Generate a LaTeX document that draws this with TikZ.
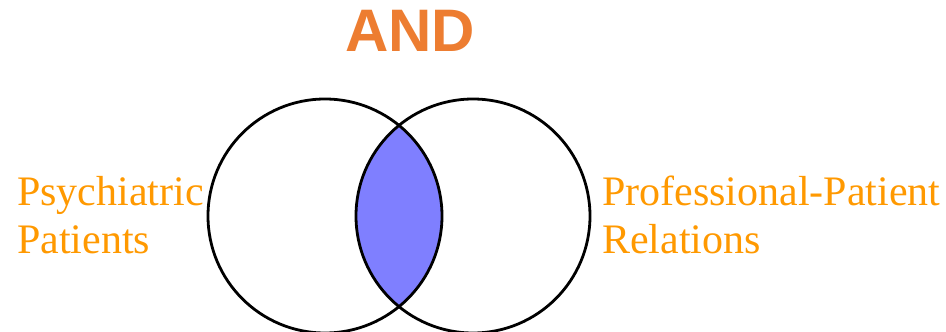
\documentclass[tikz,border=0pt]{standalone}
\usepackage{fontspec}
\setmainfont{Liberation Serif}
\setsansfont{Liberation Sans}
\definecolor{andorange}{HTML}{ED7D31}
\definecolor{labelorange}{HTML}{FF9900}
\definecolor{lensblue}{HTML}{7F7FFF}
\begin{document}
\begin{tikzpicture}[x=1pt,y=1pt,
  setcircle/.style={circle,draw=black,line width=2.8pt,minimum size=234pt,inner sep=0pt},
  label/.style={anchor=base west,text=labelorange,font=\fontsize{42}{48}\selectfont,inner sep=0pt,align=left},
  title/.style={text=andorange,font=\sffamily\bfseries\fontsize{60}{60}\selectfont,inner sep=0pt}]
\useasboundingbox (0,0) rectangle (946,-332);
\fill[white] (0,0) rectangle (946,-332);
% lens
\begin{scope}
  \clip (325,-216) circle (117);
  \fill[lensblue] (473,-216) circle (117);
\end{scope}
\node[setcircle] (L) at (325,-216) {};
\node[setcircle] (R) at (473,-216) {};
\node[title,anchor=base] (and) at (410,-51) {AND};
\node[label] (psy) at (17,-205) {Psychiatric};
\node[label] (pat) at (17,-253) {Patients};
\node[label] (pro) at (602,-205) {Professional-Patient};
\node[label] (rel) at (602,-253) {Relations};
\end{tikzpicture}
\end{document}
